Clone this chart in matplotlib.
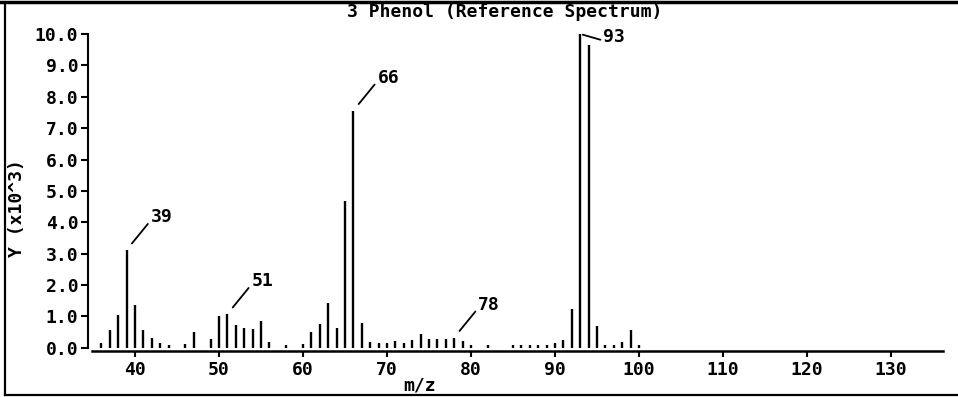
#!/usr/bin/env python3

import matplotlib
matplotlib.use("Agg")
import matplotlib.pyplot as plt
from matplotlib.lines import Line2D

# m/z and abundance (x10^3)
mz = [36, 37, 38, 39, 40, 41, 42, 43, 44, 46, 47,
      49, 50, 51, 52, 53, 54, 55, 56, 58,
      60, 61, 62, 63, 64, 65, 66, 67, 68, 69, 70,
      71, 72, 73, 74, 75, 76, 77, 78, 79, 80, 82,
      85, 86, 87, 88, 89, 90, 91, 92, 93, 94, 95, 96, 97, 98, 99, 100]
abundance = [0.15, 0.56, 1.06, 3.12, 1.38, 0.58, 0.33, 0.15, 0.1, 0.12, 0.52,
             0.29, 1.02, 1.08, 0.73, 0.63, 0.6, 0.84, 0.2, 0.08,
             0.12, 0.5, 0.75, 1.42, 0.63, 4.68, 7.56, 0.8, 0.2, 0.16, 0.15,
             0.21, 0.14, 0.24, 0.44, 0.27, 0.27, 0.28, 0.33, 0.22, 0.08, 0.08,
             0.08, 0.08, 0.08, 0.08, 0.08, 0.15, 0.24, 1.24, 10.0, 9.65, 0.7, 0.1, 0.1, 0.18, 0.57, 0.08]

labelled_peaks = [39, 51, 66, 78, 93]
x_ticks = [40, 50, 60, 70, 80, 90, 100, 110, 120, 130]
y_ticks = [0, 1, 2, 3, 4, 5, 6, 7, 8, 9, 10]

title = "3 Phenol (Reference Spectrum)"
x_label = "m/z"
y_label = "Y (x10^3)"

W, H = 958, 397
FONT = "DejaVu Sans Mono"
FS = 13
FW = "bold"

fig = plt.figure(figsize=(W / 100, H / 100), dpi=100)
fig.patch.set_facecolor("white")

# axes box in pixel coordinates of the reference
left_px, right_px, bottom_px, top_px = 88, 943, 351, 33
ax = fig.add_axes([left_px / W, 1 - bottom_px / H, (right_px - left_px) / W, (bottom_px - top_px) / H])

ax.vlines(mz, 0, abundance, colors="black", linewidth=1.7)

ax.set_xlim(34.4, 136.2)
ax.set_ylim(-0.1, 10.03)

for side in ("top", "right"):
    ax.spines[side].set_visible(False)
ax.spines["left"].set_linewidth(1.5)
ax.spines["bottom"].set_linewidth(1.8)
ax.spines["left"].set_bounds(0, 10)
ax.spines["bottom"].set_bounds(34.9, 136.2)
ax.spines["bottom"].set_position(("data", -0.1))

ax.set_xticks(x_ticks)
ax.set_xticklabels([str(t) for t in x_ticks], fontfamily=FONT, fontsize=FS, fontweight=FW)
ax.set_yticks(y_ticks)
ax.set_yticklabels([f"{t:.1f}" for t in y_ticks], fontfamily=FONT, fontsize=FS, fontweight=FW)
ax.tick_params(axis="x", direction="out", length=4, width=1.5, pad=3)
ax.tick_params(axis="y", direction="out", length=5, width=1.5, pad=2)

peak_height = dict(zip(mz, abundance))
for peak in labelled_peaks:
    h = peak_height[peak]
    if peak == 93:
        offset = (23, -3)
        shrink = 2
    else:
        offset = (24, 33)
        shrink = 6
    ax.annotate(
        str(peak),
        xy=(peak, h),
        xytext=offset,
        textcoords="offset pixels",
        ha="left",
        va="center",
        fontfamily=FONT,
        fontsize=FS,
        fontweight=FW,
        arrowprops=dict(arrowstyle="-", color="black", linewidth=1.3, shrinkA=0, shrinkB=shrink, relpos=(0, 0.3)),
        annotation_clip=False,
    )

fig.text(505 / W, 1 - 12 / H, title, ha="center", va="center", fontfamily=FONT, fontsize=FS, fontweight=FW)
fig.text(420 / W, 1 - 385 / H, x_label, ha="center", va="center", fontfamily=FONT, fontsize=FS, fontweight=FW)
fig.text(17 / W, 1 - 208 / H, y_label, ha="center", va="center", rotation=90, fontfamily=FONT, fontsize=FS, fontweight=FW)

# outer frame lines
fig.add_artist(Line2D([0, 1], [1 - 2 / H, 1 - 2 / H], color="black", linewidth=2.5))
fig.add_artist(Line2D([5 / W, 5 / W], [1 - 4 / H, 1 - 395 / H], color="black", linewidth=1.6))
fig.add_artist(Line2D([5 / W, 1], [1 - 395 / H, 1 - 395 / H], color="black", linewidth=1.6))

fig.savefig("out.png", dpi=100)
plt.close(fig)
